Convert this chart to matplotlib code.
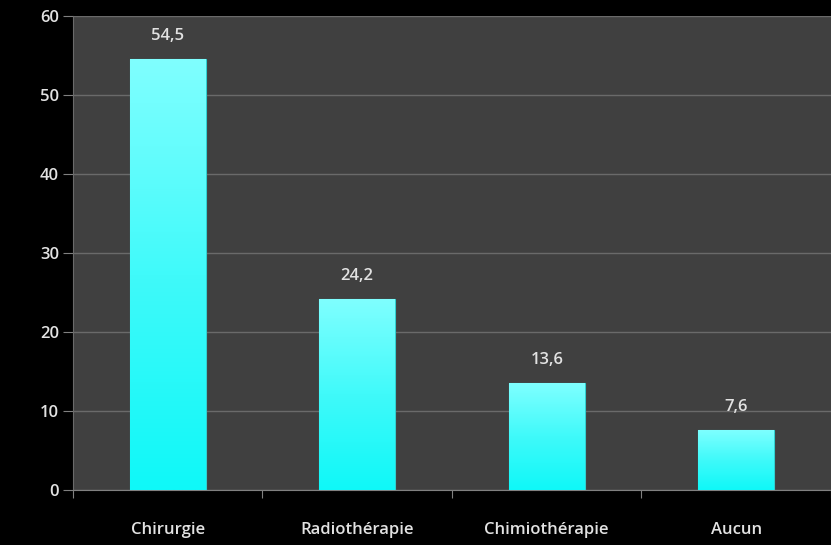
import matplotlib
matplotlib.use("Agg")
import matplotlib.pyplot as plt
import numpy as np
from matplotlib.colors import LinearSegmentedColormap

categories = ["Chirurgie", "Radiothérapie", "Chimiothérapie", "Aucun"]
values = [54.5, 24.2, 13.6, 7.6]
value_labels = ["54,5", "24,2", "13,6", "7,6"]
yticks = [0, 10, 20, 30, 40, 50, 60]

plt.rcParams['font.family'] = ['Open Sans', 'DejaVu Sans']
txt = '#e2e2e2'

fig = plt.figure(figsize=(8.31, 5.45), dpi=100, facecolor='black')
ax = fig.add_axes([0.0878, 0.1009, 0.9122, 0.8697])
ax.set_facecolor('#404040')

x = np.arange(len(categories))

cmap = LinearSegmentedColormap.from_list('cy', ['#0ff8f8', '#40fafa', '#80ffff'])
grad = np.linspace(0, 1, 256).reshape(-1, 1)
bars = ax.bar(x, values, width=0.4, color='#40f8f8', edgecolor='#30d0d0', linewidth=0.8, zorder=3)
for b, v, lab in zip(bars, values, value_labels):
    x0 = b.get_x(); w = b.get_width()
    im = ax.imshow(grad, aspect='auto', cmap=cmap, origin='lower',
                   extent=(x0, x0 + w, 0, v), zorder=3.5)
    im.set_clip_path(b)
    ax.text(x0 + w / 2, v + 1.9, lab, ha='center', va='bottom', color=txt,
            fontsize=12, fontweight='semibold')
ax.set_xlim(-0.5, len(categories) - 0.5)
ax.set_ylim(0, 60)

ax.set_yticks(yticks)
ax.set_yticklabels([str(t) for t in yticks], color=txt, fontsize=12, fontweight='semibold')
ax.yaxis.grid(True, color='#6a6a6a', linewidth=1.0, zorder=0)
ax.set_axisbelow(True)

ax.set_xticks(np.arange(len(categories) + 1) - 0.5, minor=False)
ax.set_xticklabels([])
ax.set_xticks(x, minor=True)
ax.set_xticklabels(categories, minor=True, color=txt, fontsize=12, fontweight='semibold')
ax.tick_params(axis='x', which='minor', length=0, pad=23)
ax.tick_params(axis='x', which='major', length=6, color='#808080', direction='out')
ax.tick_params(axis='y', length=7, color='#808080', pad=3)

for s in ['top', 'right']:
    ax.spines[s].set_visible(False)
ax.spines['left'].set_color('#6a6a6a')
ax.spines['bottom'].set_color('#808080')

fig.savefig('out.png', dpi=100, facecolor='black')
